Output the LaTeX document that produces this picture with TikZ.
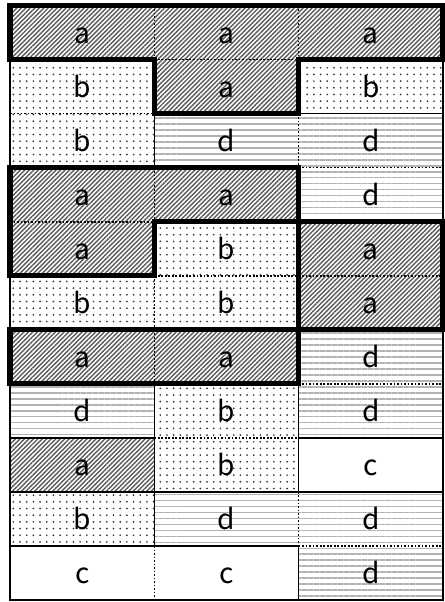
\documentclass[tikz,border=0pt]{standalone}
\usepackage{fontspec}
\setsansfont{Noto Sans CJK JP}
\usetikzlibrary{patterns.meta}
\tikzset{
  cell a/.style={pattern={Lines[angle=45,distance=1.8pt,line width=0.8pt]}, pattern color=black!65},
  cell b/.style={pattern={Dots[distance=3.8pt,radius=0.55pt]}, pattern color=black!80},
  cell c/.style={fill=white},
  cell d/.style={pattern={Lines[angle=0,distance=3.4pt,line width=0.8pt]}, pattern color=black!30},
  letter/.style={font=\sffamily\fontsize{16}{16}\selectfont, inner sep=0pt, text height=12pt, text depth=0pt},
  same/.style={line width=0.9pt, dash pattern=on 1pt off 1pt},
  differ/.style={line width=0.7pt},
  group/.style={line width=3pt, line join=miter},
}
\begin{document}
\begin{tikzpicture}[x=2.8867cm, y=-1.081cm]
\useasboundingbox (-0.0693,-0.1018) rectangle (3.007,11.036);
\foreach \ra/\rb/\rc [count=\j] in {a/a/a, b/a/b, b/d/d, a/a/d, a/b/a, b/b/a, a/a/d, d/b/d, a/b/c, b/d/d, c/c/d} {
  \foreach \l [count=\i] in {\ra,\rb,\rc} {
    \expandafter\xdef\csname g\i-\j\endcsname{\l}
    \fill[cell \l] (\i-1,\j-1) rectangle (\i,\j);
    \node[letter] (c\j-\i) at (\i-0.5,\j-0.5) {\l};
  }
}
\foreach \j in {1,...,11} {
  \foreach \i [evaluate=\i as \k using int(\i+1)] in {1,2} {
    \edef\cellL{\csname g\i-\j\endcsname}\edef\cellR{\csname g\k-\j\endcsname}
    \ifx\cellL\cellR \draw[same] (\i,\j-1) -- (\i,\j); \else \draw[differ] (\i,\j-1) -- (\i,\j); \fi
  }
}
\foreach \j [evaluate=\j as \k using int(\j+1)] in {1,...,10} {
  \foreach \i in {1,2,3} {
    \edef\cellL{\csname g\i-\j\endcsname}\edef\cellR{\csname g\i-\k\endcsname}
    \ifx\cellL\cellR \draw[same] (\i-1,\j) -- (\i,\j); \else \draw[differ] (\i-1,\j) -- (\i,\j); \fi
  }
}
\draw[differ] (0,0) rectangle (3,11);
\draw[group] (0,0) -- (3,0) -- (3,1) -- (2,1) -- (2,2) -- (1,2) -- (1,1) -- (0,1) -- cycle;
\draw[group] (0,3) -- (2,3) -- (2,4) -- (1,4) -- (1,5) -- (0,5) -- cycle;
\draw[group] (2,4) -- (3,4) -- (3,6) -- (2,6) -- cycle;
\draw[group] (0,6) -- (2,6) -- (2,7) -- (0,7) -- cycle;
\end{tikzpicture}
\end{document}
